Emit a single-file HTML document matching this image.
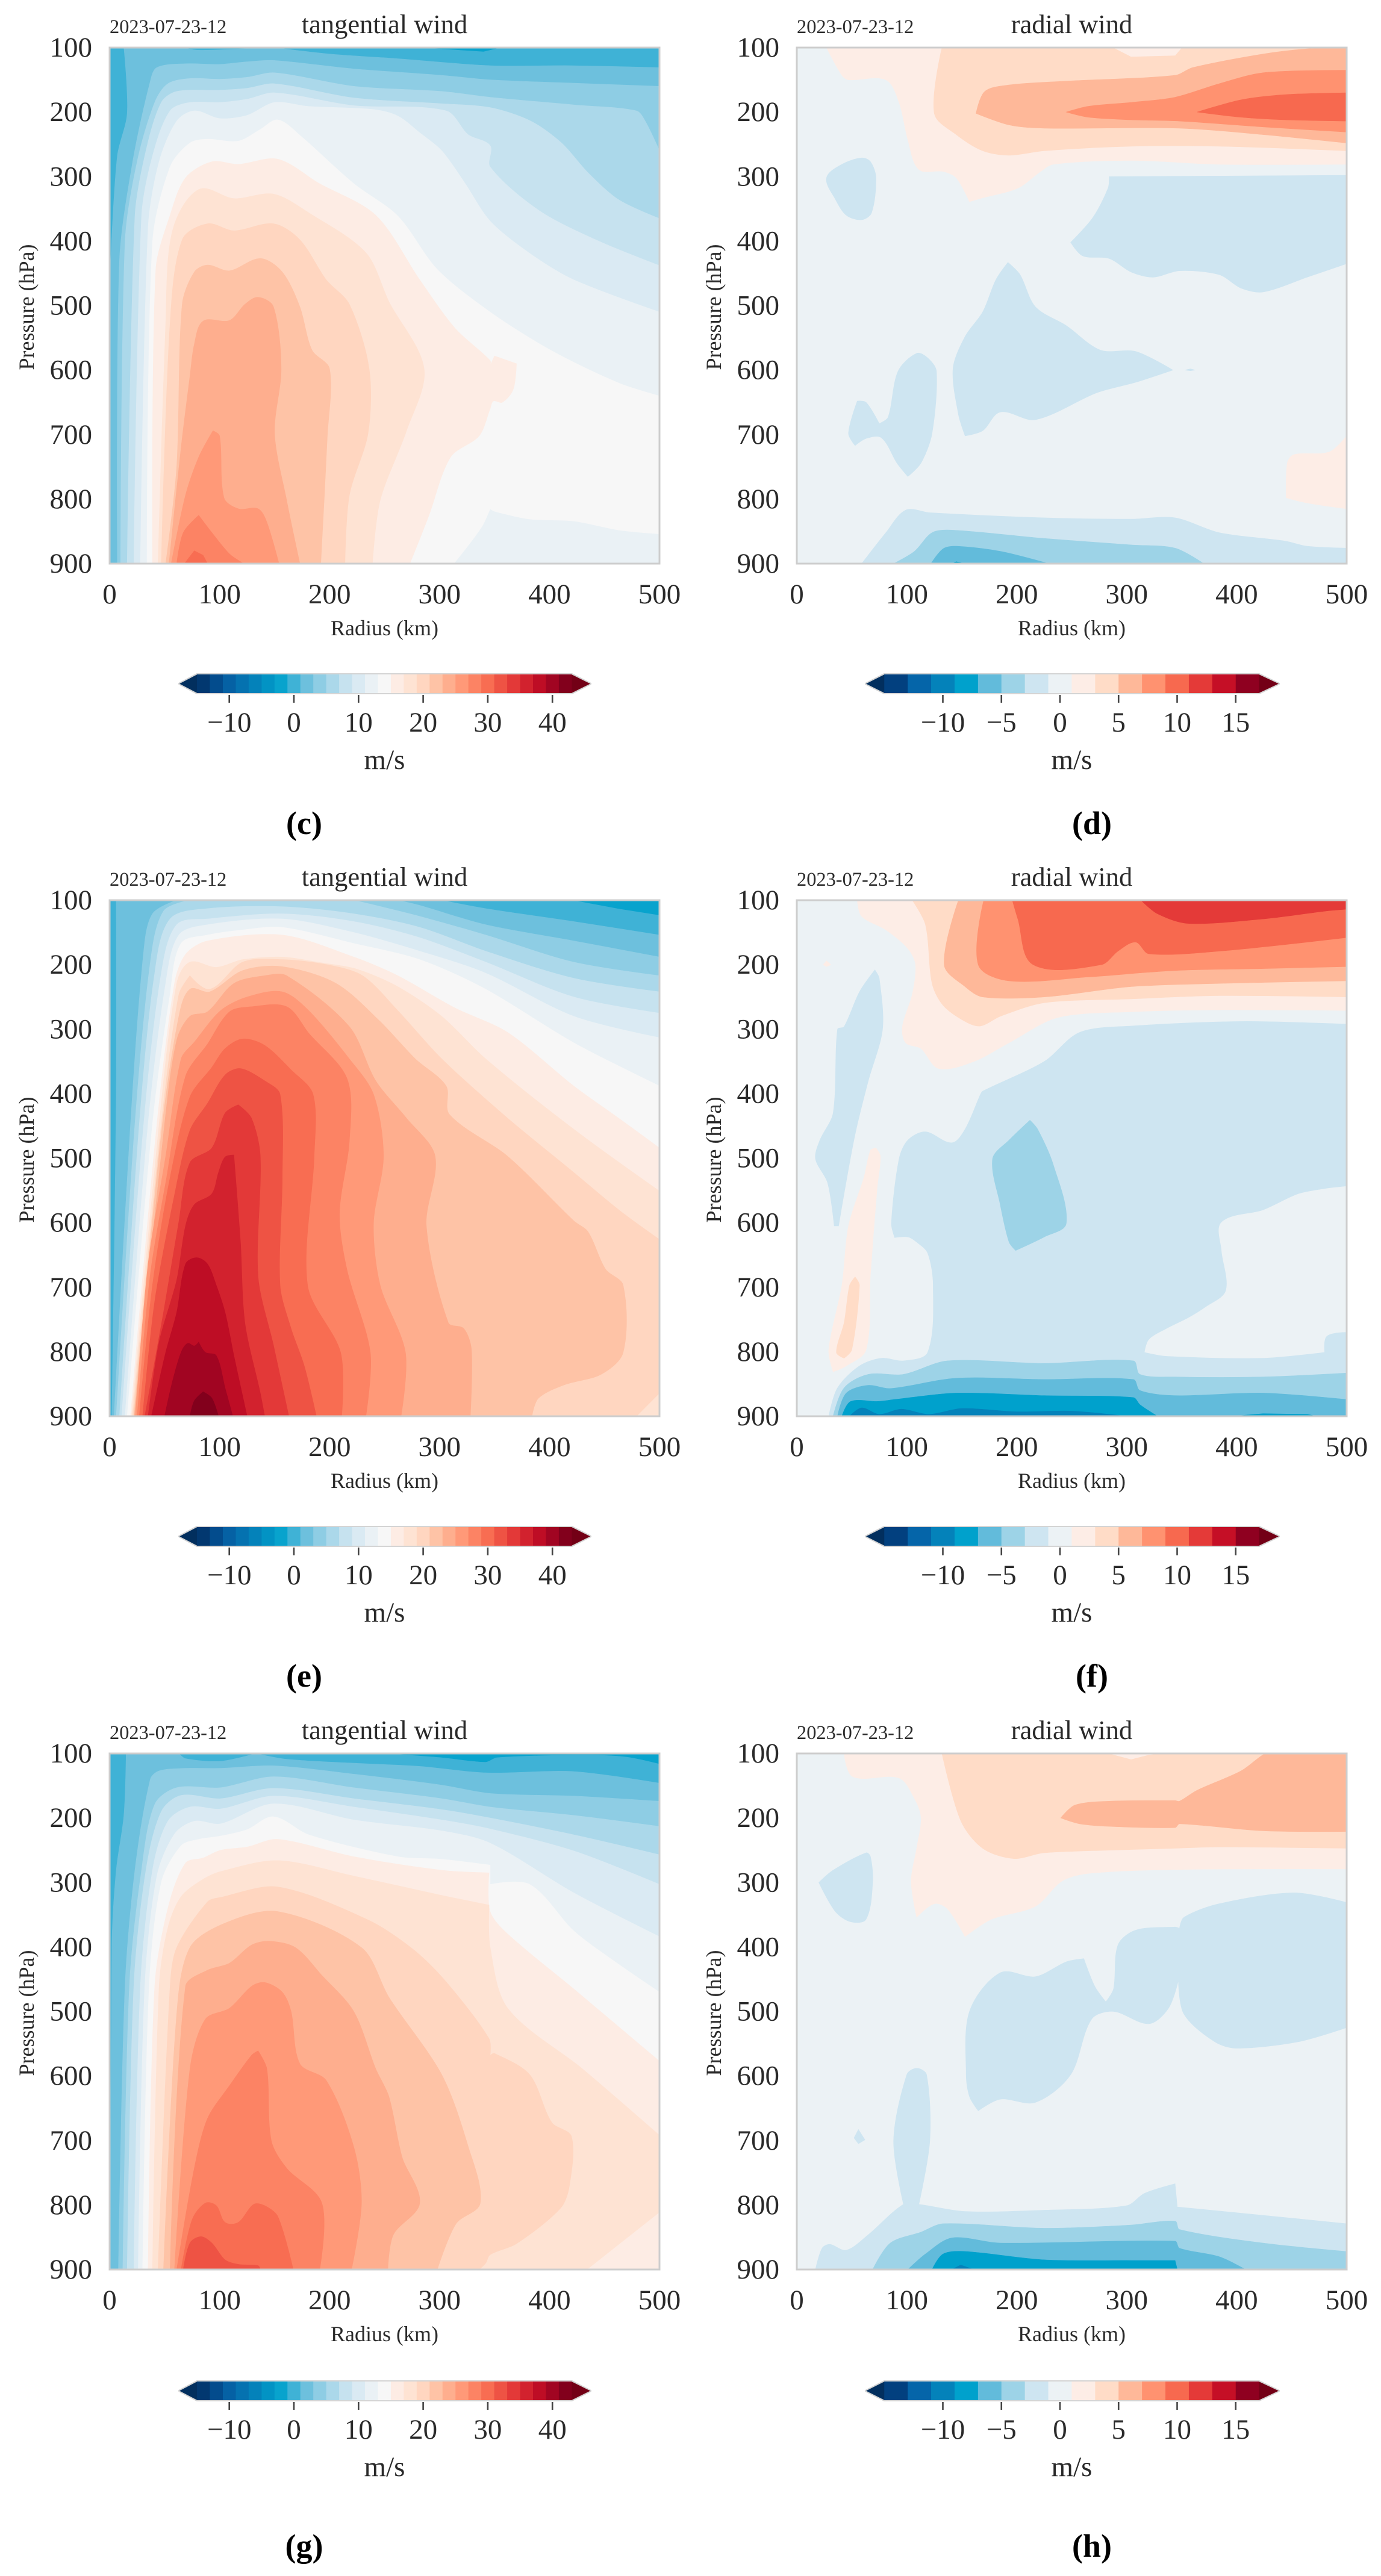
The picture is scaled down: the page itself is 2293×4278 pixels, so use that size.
<!DOCTYPE html>
<html lang="en">
<head>
<meta charset="utf-8">
<title>Tangential and radial wind cross-sections</title>
<style>
html,body{margin:0;padding:0;background:#fff;}
svg{display:block;}
text{font-family:"Liberation Serif",serif;fill:#2a2a2a;}
.date{font-size:32.4px;}
.title{font-size:44.5px;text-anchor:middle;}
.axis-title{font-size:36px;text-anchor:middle;}
.tick{font-size:47px;}
.unit{font-size:47px;text-anchor:middle;}
.letter{font-size:54px;font-weight:bold;text-anchor:middle;fill:#000;}
</style>
</head>
<body>
<svg id="figure" xmlns="http://www.w3.org/2000/svg" width="2293" height="4278" viewBox="0 0 2293 4278">
<rect x="0" y="0" width="2293" height="4278" fill="#fff"/>

<g id="panel-c" transform="translate(0 0)">
<text class="date" x="182" y="55">2023-07-23-12</text>
<text class="title" x="638.5" y="55">tangential wind</text>
<text class="axis-title" transform="translate(56 510) rotate(-90)">Pressure (hPa)</text>
<text class="axis-title" x="638.5" y="1055">Radius (km)</text>
<text class="unit" x="638.5" y="1277">m/s</text>
<text class="letter" x="505" y="1385">(c)</text>
</g>
<g id="panel-d" transform="translate(1141 0)">
<text class="date" x="182" y="55">2023-07-23-12</text>
<text class="title" x="638.5" y="55">radial wind</text>
<text class="axis-title" transform="translate(56 510) rotate(-90)">Pressure (hPa)</text>
<text class="axis-title" x="638.5" y="1055">Radius (km)</text>
<text class="unit" x="638.5" y="1277">m/s</text>
<text class="letter" x="672" y="1385">(d)</text>
</g>
<g id="panel-e" transform="translate(0 1416)">
<text class="date" x="182" y="55">2023-07-23-12</text>
<text class="title" x="638.5" y="55">tangential wind</text>
<text class="axis-title" transform="translate(56 510) rotate(-90)">Pressure (hPa)</text>
<text class="axis-title" x="638.5" y="1055">Radius (km)</text>
<text class="unit" x="638.5" y="1277">m/s</text>
<text class="letter" x="505" y="1385">(e)</text>
</g>
<g id="panel-f" transform="translate(1141 1416)">
<text class="date" x="182" y="55">2023-07-23-12</text>
<text class="title" x="638.5" y="55">radial wind</text>
<text class="axis-title" transform="translate(56 510) rotate(-90)">Pressure (hPa)</text>
<text class="axis-title" x="638.5" y="1055">Radius (km)</text>
<text class="unit" x="638.5" y="1277">m/s</text>
<text class="letter" x="672" y="1385">(f)</text>
</g>
<g id="panel-g" transform="translate(0 2833)">
<text class="date" x="182" y="55">2023-07-23-12</text>
<text class="title" x="638.5" y="55">tangential wind</text>
<text class="axis-title" transform="translate(56 510) rotate(-90)">Pressure (hPa)</text>
<text class="axis-title" x="638.5" y="1055">Radius (km)</text>
<text class="unit" x="638.5" y="1279">m/s</text>
<text class="letter" x="505" y="1413">(g)</text>
</g>
<g id="panel-h" transform="translate(1141 2833)">
<text class="date" x="182" y="55">2023-07-23-12</text>
<text class="title" x="638.5" y="55">radial wind</text>
<text class="axis-title" transform="translate(56 510) rotate(-90)">Pressure (hPa)</text>
<text class="axis-title" x="638.5" y="1055">Radius (km)</text>
<text class="unit" x="638.5" y="1279">m/s</text>
<text class="letter" x="672" y="1413">(h)</text>
</g>
</svg>

<script>
// Axis ticks and colour levels (m/s)
const radiusTicks = [0, 100, 200, 300, 400, 500];
const pressureTicks = [100, 200, 300, 400, 500, 600, 700, 800, 900];
const tangentialTicks = [-10, 0, 10, 20, 30, 40];
const radialTicks = [-10, -5, 0, 5, 10, 15];
const tangentialLevels = [-15,-13,-11,-9,-7,-5,-3,-1,1,3,5,7,9,11,13,15,17,19,21,23,25,27,29,31,33,35,37,39,41];
const radialLevels = [-15,-13,-11,-9,-7,-5,-3,-1,1,3,5,7,9,11,13,15];
const cmapPositions = [0,0.03125,0.09375,0.15625,0.21875,0.28125,0.34375,0.40625,0.46875,0.5,0.53125,0.59375,0.65625,0.71875,0.78125,0.84375,0.90625,0.96875,1];
const cmapColors = ['#022f5e','#02407f','#0565a9','#0482ba','#00a1cc','#62bbdb','#9dd3e7','#cee5f1','#ecf2f5','#f7f7f7','#fdede6','#ffdcc7','#feb899','#ff9270','#f7694f','#e43a38','#c50f26','#8f0020','#730016'];

// Filled contour bands: [lower bound of band in m/s, [radius km, pressure hPa, ...]]
const isolinesC = [
[1,[13,100,67,100,80,104,120,102,150,100,200,110,260,117,346,128,420,128,500,131,500,900,0.5,900,1,430,7,268,16,202]],
[-3,[285,100,340,106,355,100]],
[3,[7,900,9,430,21,277,37,152,43,131,69,125,100,126,125,122,150,120,222,133,302,143,346,150,420,155,500,160,500,900]],
[5,[10,900,14,402,25,277,41,185,53,156,73,148,100,149,125,146,150,139,222,160,302,168,346,177,423,189,479,198,487,214,500,260,500,900]],
[7,[16,900,23,362,33,260,47,185,61,168,100,166,125,163,150,156,222,178,302,187,346,193,383,214,411,248,435,294,463,336,500,365,500,900]],
[9,[22,900,29,362,39,268,55,198,73,185,100,185,125,180,150,170,222,190,306,198,326,235,346,252,346,285,390,352,442,398,500,438,500,900]],
[11,[28,900,35,380,45,277,61,214,77,198,100,210,125,205,150,185,180,191,240,196,262,206,282,232,302,260,323,310,346,369,382,419,422,460,500,510,500,900]],
[13,[34,900,39,402,55,285,73,248,89,242,117,245,137,227,153,212,173,236,222,311,262,361,298,444,346,510,402,570,463,620,500,640,500,854,463,848,422,834,382,831,350,819,346,815,338,844,313,900]],
[15,[39,900,42,444,55,360,69,302,93,277,117,281,153,273,190,310,242,360,282,460,314,535,346,585,346,593,350,578,370,590,367,630,357,650,349,648,346,660,336,702,310,735,290,827,273,900]],
[17,[44,900,51,527,57,385,81,320,113,334,149,327,181,356,233,418,254,494,286,598,270,694,246,802,239,900]],
[19,[47,900,55,527,66,398,89,373,113,384,149,373,173,398,197,460,218,498,236,598,235,698,218,794,214,900]],
[21,[51,900,61,750,66,498,77,448,89,437,109,446,137,427,157,448,173,502,184,569,200,598,198,702,192,900]],
[23,[54,900,65,720,73,610,77,560,85,524,109,523,123,498,135,487,149,502,156,598,150,698,161,802,173,900]],
[25,[56,900,69,794,81,735,94,694,100,702,104,798,117,815,135,815,143,836,154,900]],
[27,[61,900,67,852,81,825,93,852,109,885,122,900]],
[29,[68,900,77,880,85,887,89,900]]
];
const isolinesD = [
[1,[27,100,41,143,47,150,81,150,93,185,101,243,111,289,133,292,145,302,157,339,169,333,201,318,221,293,233,281,304,275,384,281,500,281,500,100]],
[3,[132,100,125,202,145,235,169,260,193,267,225,260,304,253,384,253,500,260,500,100]],
[1,[288,100,304,114,344,112,350,100]],
[5,[163,202,171,168,193,158,245,152,344,143,360,131,424,110,464,102,500,100,500,248,424,235,348,225,225,225,193,220]],
[7,[245,200,265,191,304,185,344,177,384,156,424,139,500,135,500,231,424,223,348,214,304,212,265,208]],
[9,[364,200,404,181,444,173,500,170,500,214,444,212,404,208]],
[-3,[27,302,41,281,59,271,67,277,72,302,68,356,59,367,45,360,35,335]],
[-3,[284,300,500,298,500,435,464,456,424,479,404,473,384,452,348,446,324,456,304,448,284,427,260,423,249,402,269,364,283,318]],
[-3,[192,433,203,452,217,502,245,531,276,569,308,571,342,600,308,619,273,635,217,677,185,665,169,694,153,702,147,669,142,598,153,548,169,510,181,460]],
[-3,[353,600,358,598,362,600,358,601]],
[-3,[92,602,109,574,119,581,127,602,123,698,113,744,101,765,91,744,77,705,63,706,53,717,47,698,55,648,63,650,75,683,83,673]],
[1,[500,702,484,727,452,731,446,744,445,798,464,806,500,815]],
[-3,[59,900,81,852,99,817,121,821,225,829,304,831,344,829,384,852,444,865,464,873,500,876,500,900]],
[-5,[88,900,107,881,123,852,141,848,225,861,304,871,344,876,370,900]],
[-7,[122,900,133,877,145,873,185,881,229,900]],
[-9,[141,900,145,897,153,900]]
];
const isolinesE = [
[1,[2,900,6,405,6,100,302,100,342,113,422,133,500,154,500,900]],
[-3,[422,100,463,113,500,123,500,100]],
[3,[4,900,19,447,31,179,39,121,61,100,262,100,282,108,342,138,422,163,500,188,500,900]],
[5,[6,900,23,447,37,196,49,117,73,100,222,100,242,108,282,125,342,154,422,196,500,217,500,900]],
[7,[9,900,27,447,41,213,55,129,89,113,157,110,222,121,282,142,342,179,422,221,500,242,500,900]],
[9,[11,900,31,447,47,213,61,138,89,129,157,121,222,133,282,158,342,196,422,250,500,275,500,900]],
[11,[14,900,35,447,51,229,63,154,89,138,157,129,222,150,282,179,342,213,422,280,500,313,500,900]],
[13,[16,900,39,447,55,246,65,167,89,154,121,146,157,142,222,167,282,192,342,238,422,321,500,388,500,900]],
[15,[19,900,43,447,59,229,69,184,89,163,157,154,222,188,262,217,314,267,362,305,422,388,463,438,500,484,500,900]],
[17,[20,900,45,447,61,229,73,196,97,204,121,192,157,188,189,196,225,207,262,234,302,280,342,346,422,455,500,551,500,900]],
[19,[21,900,47,447,63,246,73,217,91,238,121,196,157,192,198,200,230,217,262,271,302,346,362,438,422,522,463,580,500,626,500,864,479,900]],
[21,[22,900,48,447,63,280,73,238,91,242,121,209,157,203,206,229,246,288,278,346,306,388,309,432,362,497,422,597,435,614,451,672,467,697,467,801,447,835,414,851,390,872,384,900]],
[23,[22.5,900,50,447,61,317,73,280,89,273,113,229,141,217,161,217,218,296,242,380,270,438,296,497,288,605,308,755,322,764,329,797,328,900]],
[25,[23.5,900,35,664,51,497,65,346,77,320,101,271,125,250,157,242,181,271,218,346,240,401,249,497,240,601,246,697,269,801,265,900]],
[27,[25,900,37,680,51,538,69,373,89,323,109,273,129,265,161,265,181,306,216,377,218,473,209,586,216,674,237,801,233,900]],
[29,[27,900,39,697,55,530,73,405,93,359,105,330,121,315,141,325,165,363,185,401,186,497,180,697,210,801,211,900]],
[31,[30,900,41,722,59,557,73,457,89,415,105,371,119,361,141,380,155,401,157,530,155,697,165,764,177,822,188,900]],
[33,[32,900,49,739,63,598,73,507,93,484,105,430,117,417,129,438,137,497,135,683,149,790,163,900]],
[35,[35,900,45,785,61,689,69,605,77,572,93,555,99,522,105,498,113,495,119,630,123,755,137,864,141,900]],
[37,[38,900,51,801,61,739,69,664,79,654,89,664,97,697,105,739,113,806,125,900]],
[39,[50,900,57,847,65,801,71,787,77,791,81,785,87,801,97,806,105,856,112,900]],
[41,[73,900,77,876,85,862,93,872,99,900]]
];
const isolinesF = [
[1,[55,100,59,125,81,146,101,175,108,200,105,246,96,296,99,321,113,330,129,361,161,350,193,321,237,282,304,273,384,270,500,271,500,100]],
[3,[105,100,117,138,123,229,133,263,153,288,167,295,185,280,225,259,304,253,384,248,500,250,500,100]],
[5,[147,100,134,200,153,234,169,250,225,250,304,234,384,229,500,225,500,100]],
[7,[170,100,165,200,193,225,265,219,344,209,424,206,500,203,500,100]],
[9,[196,100,201,129,215,200,277,200,292,179,308,165,320,183,384,179,500,158,500,100]],
[11,[313,100,328,121,356,136,424,129,480,117,500,114,500,100]],
[1,[24,200,27,194,31,200,27,203]],
[1,[72,484,76,497,73,547,67,680,63,797,45,822,33,831,29,797,41,697,47,605,61,530,67,488]],
[3,[53,684,57,697,50,797,43,810,36,801,43,755,48,697]],
[-3,[71,208,75,221,78,300,65,380,53,463,43,555,38,605,34,605,28,538,17,501,21,472,33,430,37,300,43,296,57,242]],
[-3,[169,396,225,350,257,305,304,295,404,288,500,292,500,543,480,547,456,555,424,580,386,599,386,643,390,705,372,730,356,747,336,764,320,781,316,801,336,807,424,810,480,801,482,776,500,770,500,900,29,900,37,856,57,822,77,810,97,814,119,801,124,697,119,647,109,630,101,622,89,623,86,601,93,501,101,472,117,459,141,476,153,455,167,401]],
[-5,[178,501,193,472,212,441,219,455,233,509,245,601,225,622,199,643,193,630,185,572]],
[-5,[33,900,43,856,65,835,97,835,137,814,225,818,306,814,312,835,344,839,424,839,500,833,500,900]],
[-7,[37,900,45,864,65,852,85,857,145,841,225,843,306,843,312,860,344,868,424,864,500,874,500,900]],
[-9,[41,900,49,877,73,877,89,874,145,864,225,868,306,871,312,882,328,900]],
[-9,[396,900,424,896,464,897,473,900]],
[-11,[48,900,59,887,75,897,95,889,120,897,150,888,200,893,250,892,300,900]]
];
const isolinesG = [
[1,[15,100,63,100,69,108,101,112,133,100,161,109,222,115,282,120,342,130,422,128,500,146,500,900,0.8,900,2,401,6,281,13,196]],
[-3,[254,100,302,106,342,113,352,106,430,102,470,105,500,116,500,100]],
[3,[8,900,14,461,23,281,37,140,45,127,69,123,101,123,149,119,222,132,302,149,346,162,422,166,500,174,500,900]],
[5,[12,900,18,461,29,281,41,179,61,153,101,153,149,136,222,153,302,170,346,183,422,196,500,213,500,900]],
[7,[16,900,22,461,33,281,47,190,65,165,101,170,149,154,222,170,302,187,346,200,422,226,500,257,500,900]],
[9,[22,900,28,461,39,281,53,205,73,183,101,186,149,166,222,183,302,203,346,217,422,251,500,303,500,900]],
[11,[26,900,32,461,43,290,59,225,77,205,101,209,149,178,222,203,302,220,346,239,422,316,500,384,500,900]],
[13,[30,900,36,461,47,300,65,243,81,233,101,228,125,218,149,198,181,226,262,260,302,264,346,273,346,303,382,303,422,375,463,427,500,470,500,900]],
[15,[35,900,41,461,53,340,69,270,85,262,101,250,125,245,153,233,222,260,302,281,345,285,346,345,362,380,422,465,500,577,500,900]],
[17,[39,900,45,461,53,370,65,322,85,295,101,283,153,266,222,290,302,320,345,335,346,400,362,495,430,589,500,692,500,811,434,900]],
[19,[44,900,55,461,61,401,89,330,101,323,153,307,235,358,277,405,307,456,345,542,346,568,350,565,382,598,402,672,420,694,418,771,410,805,370,860,346,877,342,890,336,900]],
[21,[49,900,61,504,73,401,105,363,153,345,229,401,254,478,302,598,326,709,337,797,315,829,298,900]],
[23,[55,900,69,461,89,436,109,425,129,397,145,391,169,401,193,444,222,500,242,589,254,632,266,726,282,797,258,846,253,900]],
[25,[59,900,73,590,87,512,109,495,129,461,141,455,157,470,165,500,173,581,197,607,222,710,229,797,220,900]],
[27,[61,900,77,743,89,666,109,615,129,568,135,561,143,589,147,700,161,743,193,797,191,900]],
[29,[65,900,75,823,87,797,97,801,105,827,117,827,131,799,141,801,153,818,167,900]],
[31,[67,900,73,859,83,849,93,859,105,885,117,892,135,894,137,900]]
];
const isolinesH = [
[1,[43,100,51,136,93,138,107,170,113,200,109,247,104,298,109,354,125,333,137,341,153,384,177,357,217,337,241,298,265,286,344,280,500,279,500,100]],
[3,[132,100,149,204,169,247,197,263,225,254,304,249,344,247,384,245,500,247,500,100]],
[1,[284,100,304,109,320,102,330,100]],
[5,[240,200,253,180,284,174,344,173,348,174,364,157,404,127,424,102,430,100,500,100,500,221,424,220,348,209,344,215,284,213,257,209]],
[-3,[20,300,33,281,63,254,67,260,69,299,63,357,49,361,35,345]],
[-3,[157,500,185,440,217,446,245,423,261,418,271,461,281,485,288,465,292,397,308,374,344,369,348,371,352,354,384,333,452,316,500,331,500,525,456,547,400,557,380,547,352,504,347,452,338,495,320,519,288,500,268,512,249,598,217,641,185,636,165,654,157,632,154,598]],
[-3,[100,598,109,588,118,598,121,700,111,799,97,799,88,700]],
[-3,[52,696,56,683,62,699,56,705]],
[-3,[17,900,23,867,30,861,45,870,65,846,97,799,111,799,153,810,225,808,300,801,316,782,344,767,346,803,424,816,500,829,500,900]],
[-5,[69,900,85,859,113,842,133,829,225,836,304,831,344,825,348,838,424,859,500,872,500,900]],
[-7,[101,900,117,876,141,851,185,859,344,856,348,867,384,880,408,900]],
[-9,[123,900,133,876,153,872,225,885,304,886,344,886,346,900]],
[-11,[141,900,149,893,161,900]]
];

const SVG_NS = 'http://www.w3.org/2000/svg';

function make(parent, tag, attrs) {
  const el = document.createElementNS(SVG_NS, tag);
  for (const k in attrs) el.setAttribute(k, attrs[k]);
  parent.appendChild(el);
  return el;
}
function hexToRgb(h) {
  return [parseInt(h.slice(1,3),16), parseInt(h.slice(3,5),16), parseInt(h.slice(5,7),16)];
}
function cmap(t) {
  let i = 0;
  while (i < cmapPositions.length - 2 && t > cmapPositions[i+1]) i++;
  const f = Math.max(0, Math.min(1, (t - cmapPositions[i]) / (cmapPositions[i+1] - cmapPositions[i])));
  const a = hexToRgb(cmapColors[i]), b = hexToRgb(cmapColors[i+1]);
  return 'rgb(' + a.map((v, j) => Math.round(v + (b[j] - v) * f)).join(',') + ')';
}
// Axis functions, in each panel group's own coordinates
const plotLeft = 182, plotTop = 79, plotWidth = 913, plotHeight = 857;
function xScale(r) { return plotLeft + r / 500 * plotWidth; }
function yScale(p) { return plotTop + (p - 100) / 800 * plotHeight; }
function bandColor(levels, lower) {
  const min = levels[0], max = levels[levels.length - 1] + 2;
  return cmap((lower + 1 - min) / (max - min));
}
function tickText(v) { return String(v).replace('-', '\u2212'); }

// Smooth a closed contour through its points, keeping corners on the plot edge and sharp tips
function contourPath(pts) {
  const n = pts.length / 2;
  const V = [], edge = [];
  for (let i = 0; i < n; i++) {
    const r = pts[2*i], p = pts[2*i+1];
    V.push([xScale(r), yScale(p)]);
    edge.push(r <= 1 || r >= 500 || p <= 100 || p >= 900);
  }
  const unit = function (a, b) {
    const dx = b[0]-a[0], dy = b[1]-a[1], l = Math.hypot(dx, dy) || 1;
    return [dx/l, dy/l];
  };
  const sharp = V.map(function (v, i) {
    if (edge[i] || n < 5) return true;
    const a = unit(V[(i+n-1)%n], v), b = unit(v, V[(i+1)%n]);
    return a[0]*b[0] + a[1]*b[1] < 0.25;
  });
  const tangent = function (i) { return unit(V[(i+n-1)%n], V[(i+1)%n]); };
  let d = 'M' + V[0][0].toFixed(1) + ' ' + V[0][1].toFixed(1);
  for (let i = 0; i < n; i++) {
    const j = (i+1)%n, a = V[i], b = V[j];
    const len = Math.hypot(b[0]-a[0], b[1]-a[1]) * 0.3;
    if (sharp[i] && sharp[j]) { d += 'L' + b[0].toFixed(1) + ' ' + b[1].toFixed(1); continue; }
    const ta = sharp[i] ? [0,0] : tangent(i), tb = sharp[j] ? [0,0] : tangent(j);
    d += 'C' + (a[0]+ta[0]*len).toFixed(1) + ' ' + (a[1]+ta[1]*len).toFixed(1) + ' ' +
         (b[0]-tb[0]*len).toFixed(1) + ' ' + (b[1]-tb[1]*len).toFixed(1) + ' ' +
         b[0].toFixed(1) + ' ' + b[1].toFixed(1);
  }
  return d + 'Z';
}

function drawPanel(id, isolines, levels, ticks, barZero, barUnit, tipLeft, tipRight, barShift) {
  const g = document.getElementById('panel-' + id);

  const clip = make(g, 'clipPath', {id: 'clip-' + id});
  make(clip, 'rect', {x: plotLeft, y: plotTop, width: plotWidth, height: plotHeight});

  const plot = make(g, 'g', {'clip-path': 'url(#clip-' + id + ')'});
  
  

  const base = make(plot, 'rect', {x: plotLeft, y: plotTop, width: plotWidth, height: plotHeight, fill: bandColor(levels, -1)});
  
  

  isolines.forEach(function (band) {
    const color = bandColor(levels, band[0]);
    const path = make(plot, 'path', {d: contourPath(band[1]), fill: color, stroke: color, 'stroke-width': 0.6});
    
    
  });

  const spine = make(g, 'rect', {x: plotLeft, y: plotTop, width: plotWidth, height: plotHeight, fill: 'none', stroke: '#cdcdcd', 'stroke-width': 3});
  
  

  radiusTicks.forEach(function (v) {
    const t = make(g, 'text', {class: 'tick', x: xScale(v), y: 1002, 'text-anchor': 'middle'});
    t.textContent = tickText(v);
    
    
  });
  pressureTicks.forEach(function (v) {
    const t = make(g, 'text', {class: 'tick', x: 153, y: yScale(v) + 15, 'text-anchor': 'end'});
    t.textContent = tickText(v);
    
    
  });

  // Colour bar
  const bar = make(g, 'g', {transform: 'translate(0 ' + barShift + ')'});
  
  
  const barX = function (v) { return barZero + v * barUnit; };
  const barLeft = barX(levels[0]), barRight = barX(levels[levels.length - 1] + 2);
  const top = 1120, bottom = 1151, mid = 1135.5;

  const frame = make(bar, 'path', {d: 'M' + tipLeft + ' ' + mid + 'L' + barLeft + ' ' + top + 'L' + barRight + ' ' + top + 'L' + tipRight + ' ' + mid + 'L' + barRight + ' ' + bottom + 'L' + barLeft + ' ' + bottom + 'Z', fill: '#fff', stroke: '#d4d4d4', 'stroke-width': 4, 'stroke-linejoin': 'round'});
  
  

  const arrowLow = make(bar, 'path', {d: 'M' + tipLeft + ' ' + mid + 'L' + (barLeft + 0.5) + ' ' + top + 'L' + (barLeft + 0.5) + ' ' + bottom + 'Z', fill: cmap(0)});
  
  
  const arrowHigh = make(bar, 'path', {d: 'M' + tipRight + ' ' + mid + 'L' + (barRight - 0.5) + ' ' + top + 'L' + (barRight - 0.5) + ' ' + bottom + 'Z', fill: cmap(1)});
  
  

  levels.forEach(function (lv) {
    const cell = make(bar, 'rect', {x: barX(lv), y: top, width: barX(lv + 2) - barX(lv) + (lv === levels[levels.length - 1] ? 0 : 0.4), height: bottom - top, fill: bandColor(levels, lv)});
    
    
  });
  ticks.forEach(function (v) {
    const mark = make(bar, 'line', {x1: barX(v), x2: barX(v), y1: 1154, y2: 1167, stroke: '#444', 'stroke-width': 2.6});
    
    
    const t = make(bar, 'text', {class: 'tick', x: barX(v), y: 1215, 'text-anchor': 'middle'});
    t.textContent = tickText(v);
    
    
  });
}

drawPanel('c', isolinesC, tangentialLevels, tangentialTicks, 488, 10.73, 298, 980, 0);
drawPanel('d', isolinesD, radialLevels, radialTicks, 619, 19.45, 297, 982, 0);
drawPanel('e', isolinesE, tangentialLevels, tangentialTicks, 488, 10.73, 298, 980, 0);
drawPanel('f', isolinesF, radialLevels, radialTicks, 619, 19.45, 297, 982, 0);
drawPanel('g', isolinesG, tangentialLevels, tangentialTicks, 488, 10.73, 298, 980, 2);
drawPanel('h', isolinesH, radialLevels, radialTicks, 619, 19.45, 297, 982, 2);
</script>
</body>
</html>
